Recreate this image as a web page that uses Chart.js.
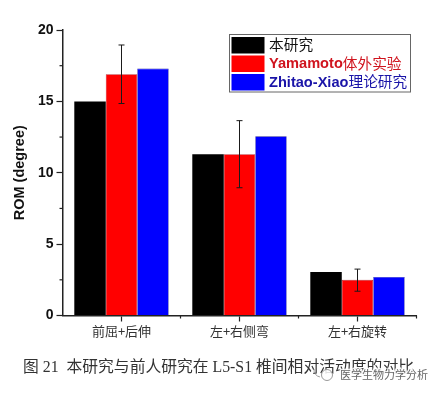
<!DOCTYPE html>
<html>
<head>
<meta charset="utf-8">
<style>
    html, body { margin: 0; padding: 0; background: #fff; }
    canvas { display: block; }
</style>
<script src="https://cdn.jsdelivr.net/npm/chart.js@4"></script>
</head>
<body>
<canvas id="romChart" width="440" height="394"></canvas>
<script>
const categories = ["前屈+后伸", "左+右侧弯", "左+右旋转"];
const seriesNames = ["本研究", "Yamamoto体外实验", "Zhitao-Xiao理论研究"];
const thisStudy = [15.0, 11.3, 3.05];
const yamamoto = [16.9, 11.3, 2.5];
const zhitaoXiao = [17.3, 12.55, 2.7];
const yamamotoErrLow = [14.85, 8.95, 1.7];
const yamamotoErrHigh = [18.95, 13.65, 3.25];
const yTicks = [0, 5, 10, 15, 20];
const captionText = "图 21  本研究与前人研究在 L5-S1 椎间相对活动度的对比";
const watermarkText = "医学生物力学分析";

const latinBold = '"Liberation Sans", Arial, sans-serif';
const cjkFont = '"Noto Sans CJK SC", sans-serif';

// error bars on the red series, minor ticks, legend box, caption
const extras = {
    id: "extras",
    afterDatasetsDraw(chart) {
        const ctx = chart.ctx;
        const x = chart.scales.x;
        const y = chart.scales.y;
        const red = chart.getDatasetMeta(1).data;

        ctx.save();
        ctx.strokeStyle = "#1a1a1a";
        ctx.lineWidth = 1;
        red.forEach(function (bar, i) {
            const top = y.getPixelForValue(yamamotoErrHigh[i]);
            const bottom = y.getPixelForValue(yamamotoErrLow[i]);
            ctx.beginPath();
            ctx.moveTo(bar.x, top);
            ctx.lineTo(bar.x, bottom);
            ctx.moveTo(bar.x - 3, top);
            ctx.lineTo(bar.x + 3, top);
            ctx.moveTo(bar.x - 3, bottom);
            ctx.lineTo(bar.x + 3, bottom);
            ctx.stroke();
        });

        // minor ticks
        ctx.strokeStyle = "#222";
        ctx.lineWidth = 1.2;
        yTicks.slice(0, -1).forEach(function (v, i) {
            const py = y.getPixelForValue((v + yTicks[i + 1]) / 2);
            ctx.beginPath();
            ctx.moveTo(x.left, py);
            ctx.lineTo(x.left - 3, py);
            ctx.stroke();
        });
        categories.forEach(function (c, i) {
            const step = x.getPixelForValue(1) - x.getPixelForValue(0);
            const px = x.getPixelForValue(i) + step / 2;
            ctx.beginPath();
            ctx.moveTo(px, y.bottom);
            ctx.lineTo(px, y.bottom + 3);
            ctx.stroke();
        });
        ctx.restore();
        drawLegend(chart);
        drawCaption(ctx);
    }
};

function drawLegend(chart) {
    const ctx = chart.ctx;
    const rows = [37, 55.5, 74];
    ctx.save();
    ctx.fillStyle = "#fff";
    ctx.fillRect(229.5, 34.5, 181, 57.5);
    ctx.strokeStyle = "#666";
    ctx.lineWidth = 1;
    ctx.strokeRect(229.5, 34.5, 181, 57.5);
    ctx.textBaseline = "middle";
    chart.data.datasets.forEach(function (ds, i) {
        ctx.fillStyle = ds.backgroundColor;
        ctx.fillRect(231.5, rows[i], 33, 16.5);
        const name = seriesNames[i];
        const cut = name.search(/[^\x00-\x7f]/);
        const latin = name.slice(0, cut);
        const cjk = name.slice(cut);
        const textY = rows[i] + 8.5;
        const textColor = ["#111", "#d0141e", "#1a14a8"][i];
        let tx = 269;
        ctx.fillStyle = textColor;
        ctx.font = "bold 14.6px " + latinBold;
        ctx.textAlign = "left";
        ctx.fillText(latin, tx, textY);
        tx += ctx.measureText(latin).width;
        ctx.font = "14.7px " + cjkFont;
        ctx.fillText(cjk, tx, textY - 1);
    });
    ctx.restore();
}

function drawCaption(ctx) {
    ctx.save();
    ctx.textBaseline = "middle";
    ctx.textAlign = "left";
    ctx.fillStyle = "#333";
    ctx.font = '15.8px "Liberation Serif", "Noto Sans CJK SC", serif';
    ctx.fillText(captionText, 23, 368);

    // watermark
    ctx.strokeStyle = "#999";
    ctx.lineWidth = 1;
    ctx.fillStyle = "rgba(255,255,255,0.85)";
    ctx.beginPath();
    ctx.arc(327, 375, 5.5, 0, Math.PI * 2);
    ctx.fill();
    ctx.stroke();
    ctx.beginPath();
    ctx.arc(321, 370, 7, Math.PI * 0.55, Math.PI * 1.05);
    ctx.stroke();
    ctx.font = "11px " + cjkFont;
    ctx.lineWidth = 2.5;
    ctx.strokeStyle = "rgba(255,255,255,0.9)";
    ctx.strokeText(watermarkText, 340, 375);
    ctx.fillStyle = "#666";
    ctx.fillText(watermarkText, 340, 375);
    ctx.restore();
}

new Chart(document.getElementById("romChart").getContext("2d"), {
    type: "bar",
    data: {
        labels: categories,
        datasets: [
            { label: seriesNames[0], data: thisStudy, backgroundColor: "#000000" },
            { label: seriesNames[1], data: yamamoto, backgroundColor: "#ff0000", borderColor: "#8a1020", borderWidth: 0.6 },
            { label: seriesNames[2], data: zhitaoXiao, backgroundColor: "#0000ff", borderColor: "#2020a0", borderWidth: 0.6 }
        ]
    },
    options: {
        responsive: false,
        animation: false,
        layout: { padding: { top: 30, right: 23.5, left: 0, bottom: 0 } },
        datasets: { bar: { categoryPercentage: 0.8, barPercentage: 1 } },
        plugins: { legend: { display: false }, tooltip: { enabled: false } },
        scales: {
            x: {
                afterFit: function (scale) { scale.height = 78.5; },
                border: { color: "#222", width: 1.5 },
                grid: { display: true, offset: false, drawOnChartArea: false, tickLength: 6, tickColor: "#222", tickWidth: 1.2 },
                ticks: {
                    color: "#333",
                    padding: 2,
                    maxRotation: 0,
                    font: { family: cjkFont, size: 13 }
                }
            },
            y: {
                min: 0,
                max: 20,
                afterFit: function (scale) { scale.width = 62.5; },
                afterBuildTicks: function (scale) {
                    scale.ticks = yTicks.map(function (v) { return { value: v }; });
                },
                border: { color: "#222", width: 1.5 },
                grid: { display: true, drawOnChartArea: false, tickLength: 6, tickColor: "#222", tickWidth: 1.2 },
                title: {
                    display: true,
                    text: "ROM (degree)",
                    color: "#111",
                    padding: { top: 11, bottom: 0 },
                    font: { family: latinBold, size: 14.5, weight: "bold" }
                },
                ticks: {
                    color: "#111",
                    padding: 3,
                    font: { family: latinBold, size: 14, weight: "bold" }
                }
            }
        }
    },
    plugins: [extras]
});
</script>
</body>
</html>
